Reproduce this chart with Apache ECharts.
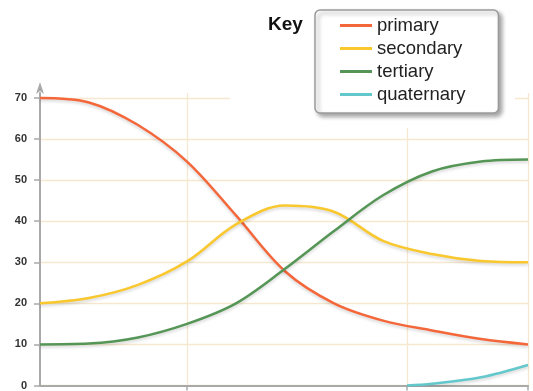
<!DOCTYPE html>
<html>
<head>
<meta charset="utf-8">
<script src="https://cdn.jsdelivr.net/npm/echarts@6/dist/echarts.min.js"></script>
<style>
  html, body { margin: 0; padding: 0; background: #fff; }
  #chart { width: 533px; height: 391px; }
</style>
</head>
<body>
<div id="chart"></div>
<script>
// Evenly spaced sample positions on the horizontal scale
const xPos = [0, 49, 98, 147, 196, 245, 294, 343, 392, 441, 488];

const primary   = [70, 68.9, 63.4, 54.5, 41.4, 27.8, 20, 15.8, 13.4, 11.3, 10];
const secondary = [20, 21.3, 24.5, 30.2, 39.2, 43.8, 42.3, 35.2, 32, 30.3, 30];
const tertiary  = [10, 10.2, 11.7, 15, 20, 28.4, 37.6, 46.3, 52.1, 54.5, 55];

// The last series only starts late in the range
const quaternaryX = [367, 392, 441, 488];
const quaternary  = [0, 0.4, 2.0, 5];

const seriesNames = ['primary', 'secondary', 'tertiary', 'quaternary'];
const seriesColors = ['#f4673b', '#f9c72e', '#559656', '#63c8cb'];

const xGuides = [147, 367, 488];
const yTicks = [0, 10, 20, 30, 40, 50, 60, 70];

function pairs(xs, ys) {
  return xs.map((x, i) => [x, ys[i]]);
}

const gridColor = '#f6e7cf';

const chart = echarts.init(document.getElementById('chart'));

const lineSeries = [
  pairs(xPos, primary),
  pairs(xPos, secondary),
  pairs(xPos, tertiary),
  pairs(quaternaryX, quaternary)
].map((data, i) => ({
  name: seriesNames[i],
  type: 'line',
  data: data,
  smooth: 0.34,
  showSymbol: false,
  silent: true,
  lineStyle: {
    width: 2.5,
    color: seriesColors[i],
    shadowColor: 'rgba(0,0,0,0.16)',
    shadowBlur: 3,
    shadowOffsetY: 2
  },
  itemStyle: { color: seriesColors[i] }
}));

chart.setOption({
  animation: false,
  backgroundColor: '#fff',
  textStyle: { fontFamily: 'Liberation Sans, Arial, sans-serif' },
  title: {
    text: 'Key',
    left: 263,
    top: 10,
    textStyle: { fontSize: 19, fontWeight: 'bold', color: '#111', fontFamily: 'Liberation Sans, Arial, sans-serif' }
  },
  legend: {
    data: seriesNames,
    orient: 'vertical',
    left: 315,
    top: 10,
    padding: [4, 33, 7, 25],
    itemGap: 0,
    itemWidth: 32,
    itemHeight: 3,
    icon: 'rect',
    backgroundColor: '#fff',
    borderColor: '#9a9a9a',
    borderWidth: 1.5,
    borderRadius: 5,
    shadowColor: 'rgba(0,0,0,0.35)',
    shadowBlur: 4,
    shadowOffsetX: 3,
    shadowOffsetY: 3,
    selectedMode: false,
    textStyle: { fontSize: 18.5, lineHeight: 23, color: '#222', fontFamily: 'Liberation Sans, Arial, sans-serif' }
  },
  graphic: [{
    type: 'rect',
    z: 1,
    silent: true,
    shape: { x: 230, y: 0, width: 285, height: 128 },
    style: { fill: '#fff' }
  }],
  grid: { left: 40, right: 5, top: 93, bottom: 5.3, containLabel: false },
  xAxis: {
    type: 'value',
    min: 0,
    max: 488,
    axisLine: { show: true, lineStyle: { color: '#a9a9a9', width: 2 } },
    axisTick: { show: true, length: 5, customValues: xGuides, lineStyle: { color: '#a9a9a9', width: 1.5 } },
    axisLabel: { show: false },
    splitLine: { show: true, lineStyle: { color: gridColor, width: 1.3 } }
  },
  yAxis: {
    type: 'value',
    min: 0,
    max: 71.2,
    axisLine: {
      show: true,
      symbol: ['none', 'arrow'],
      symbolSize: [6, 12],
      symbolOffset: [0, 11],
      lineStyle: { color: '#a9a9a9', width: 2 }
    },
    axisTick: { show: true, length: 6, customValues: yTicks, lineStyle: { color: '#a9a9a9', width: 1.5 } },
    axisLabel: {
      customValues: yTicks,
      margin: 13,
      fontSize: 11,
      fontWeight: 'bold',
      color: '#333'
    },
    splitLine: { show: true, lineStyle: { color: gridColor, width: 1.3 } }
  },
  series: lineSeries
});
</script>
</body>
</html>
